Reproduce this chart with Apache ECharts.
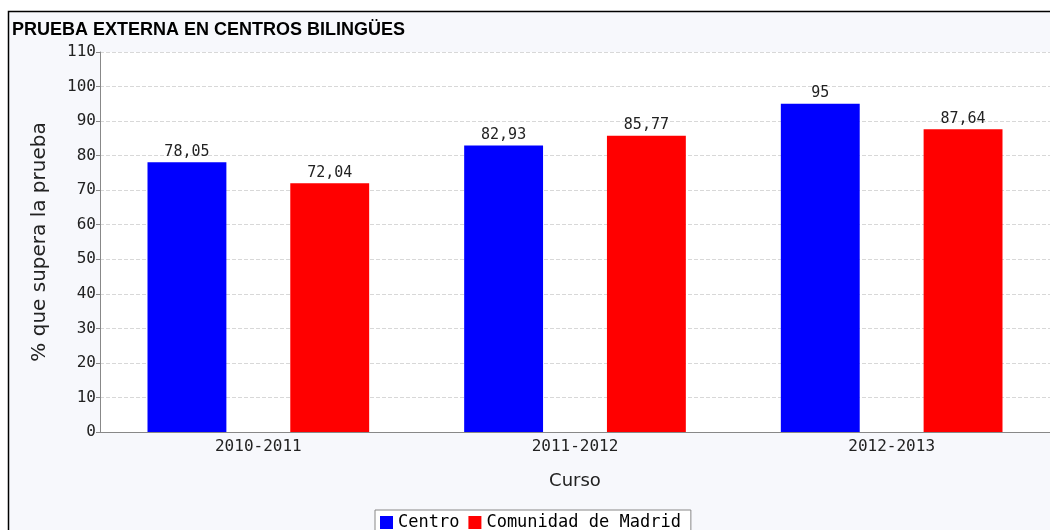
<!DOCTYPE html>
<html><head><meta charset="utf-8">
<script src="https://cdn.jsdelivr.net/npm/echarts@6/dist/echarts.min.js"></script>
<style>html,body{margin:0;padding:0;background:#fff}#c{width:1050px;height:530px}</style>
</head><body><div id="c"></div>
<script>
var categories = ['2010-2011', '2011-2012', '2012-2013'];
var centro = [78.05, 82.93, 95];
var comunidad = [72.04, 85.77, 87.64];
var seriesNames = ['Centro', 'Comunidad de Madrid'];
var title = 'PRUEBA EXTERNA EN CENTROS BILINGÜES';

function fmt(v){ return String(v).replace('.', ','); }
var mono = 'DejaVu Sans Mono';
var sans = 'DejaVu Sans';
var chart = echarts.init(document.getElementById('c'), null, {renderer:'canvas'});
chart.setOption({
  animation: false,
  backgroundColor: '#fff',
  graphic: [
    {type:'rect', z:-10, shape:{x:8.5, y:11.5, width:1050, height:530}, style:{fill:'#f7f8fc', stroke:'#000', lineWidth:1.5}},
    {type:'rect', z:-5, shape:{x:100, y:52, width:960, height:380}, style:{fill:'#fff'}}
  ],
  title: {text:title, left:12, top:21, padding:0, textStyle:{fontFamily:'Liberation Sans', fontWeight:'bold', fontSize:18, color:'#000'}},
  legend: {top:510, left:375, itemWidth:13, itemHeight:13, itemGap:9, icon:'rect',
    borderColor:'#888', borderWidth:1, padding:[4,10,8,5], backgroundColor:'#fff',
    textStyle:{fontFamily:mono, fontSize:17, color:'#000'}, data:seriesNames},
  grid: {left:100, right:-2, top:52, bottom:98},
  xAxis: {type:'category', data:categories, name:'Curso', nameLocation:'middle', nameGap:40,
    nameTextStyle:{fontFamily:sans, fontSize:18, color:'#222'},
    axisLine:{lineStyle:{color:'#888'}}, axisTick:{show:false},
    axisLabel:{fontFamily:mono, fontSize:16, color:'#222', margin:7}},
  yAxis: {type:'value', min:0, max:110, interval:10, name:'% que supera la prueba', nameLocation:'middle', nameGap:50,
    nameTextStyle:{fontFamily:sans, fontSize:20, color:'#222'},
    axisLine:{show:true, lineStyle:{color:'#888'}}, axisTick:{show:true, length:4, lineStyle:{color:'#888'}},
    axisLabel:{fontFamily:mono, fontSize:16, color:'#222', margin:4},
    splitLine:{lineStyle:{color:'#d8d8d8', type:'dashed'}}},
  series: [
    {name:seriesNames[0], type:'bar', data:centro, barGap:'81%', barCategoryGap:'30%',
      itemStyle:{color:'#0000ff'},
      label:{show:true, position:'top', distance:3, formatter:function(p){return fmt(p.value);}, fontFamily:mono, fontSize:15, color:'#222'}},
    {name:seriesNames[1], type:'bar', data:comunidad,
      itemStyle:{color:'#ff0000'},
      label:{show:true, position:'top', distance:3, formatter:function(p){return fmt(p.value);}, fontFamily:mono, fontSize:15, color:'#222'}}
  ]
});
</script></body></html>
